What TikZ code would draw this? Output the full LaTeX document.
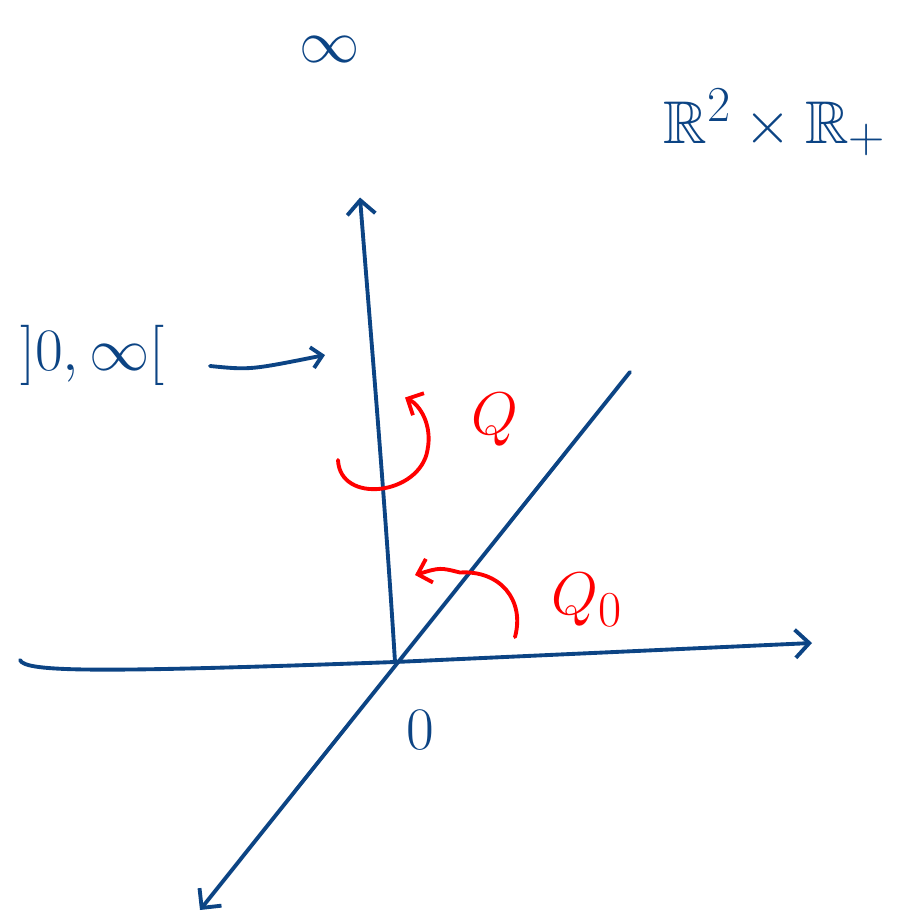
\documentclass[tikz,border=0pt]{standalone}
\usepackage{amsmath}
\usepackage{amssymb}
\usepackage{tikz}
\usetikzlibrary{arrows.meta,positioning}
\definecolor{InkBlue}{RGB}{12,68,132}
\definecolor{InkRed}{RGB}{255,0,0}

\begin{document}
\begin{tikzpicture}[
    axis/.style={draw=InkBlue, line width=2.2pt, line cap=round,
                 -{Straight Barb[length=8pt, width=16pt, line width=2.2pt]}},
    redarr/.style={draw=InkRed, line width=2.2pt, line cap=round,
                   -{Straight Barb[length=7pt, width=14pt, line width=2.2pt]}},
    lbl/.style={text=InkBlue, font=\Huge, scale=1.38, inner sep=1pt},
    rlbl/.style={text=InkRed, font=\Huge, scale=1.38, inner sep=1pt}
]
    \useasboundingbox (0,0) rectangle (18.24,-18.42);
    % axes
    \coordinate (origin) at (7.9,-13.24);
    \coordinate (hleft) at (0.4,-13.2);
    \coordinate (hright) at (16.24,-12.86);
    \coordinate (vtop) at (7.2,-3.95);
    \coordinate (dtop) at (12.6,-7.44);
    \coordinate (dbot) at (4.0,-18.2);
    \draw[axis] (hleft) .. controls (0.5,-13.45) and (2,-13.45) .. (origin) -- (hright);
    \draw[axis] (origin) .. controls (7.7,-10) and (7.4,-6.5) .. (vtop);
    \draw[axis] (dtop) -- (dbot);
    % labels
    \node[lbl] (infty) at (6.6,-1.0) {$\infty$};
    \node[lbl] (space) at (15.5,-2.45) {$\mathbb{R}^2 \times \mathbb{R}_+$};
    \node[lbl] (zero) at (8.4,-14.6) {$0$};
    \node[lbl] (intv) at (1.85,-7.1) {$]0,\infty[$};
    \coordinate (intvstart) at (4.2,-7.32);
    \coordinate (intvend) at (6.5,-7.1);
    \draw[axis, -{Straight Barb[length=6pt, width=12pt, line width=2.2pt]}]
        (intvstart) .. controls (5,-7.4) .. (intvend);
    % rotations
    \node[rlbl] (qlbl) at (9.9,-8.4) {$Q$};
    \node[rlbl] (q0lbl) at (11.75,-12.0) {$Q_0$};
    \coordinate (qstart) at (6.76,-9.2);
    \coordinate (qend) at (8.1,-7.95);
    \draw[redarr] (qstart) .. controls (6.8,-10.1) and (8.4,-9.9) .. (8.55,-9.0)
        .. controls (8.65,-8.5) and (8.4,-8.1) .. (qend);
    \coordinate (q0start) at (10.3,-12.74);
    \coordinate (q0end) at (8.3,-11.5);
    \draw[redarr] (q0start) .. controls (10.5,-12.0) and (10.0,-11.4) .. (9.2,-11.45)
        .. controls (8.8,-11.35) .. (q0end);
\end{tikzpicture}
\end{document}
